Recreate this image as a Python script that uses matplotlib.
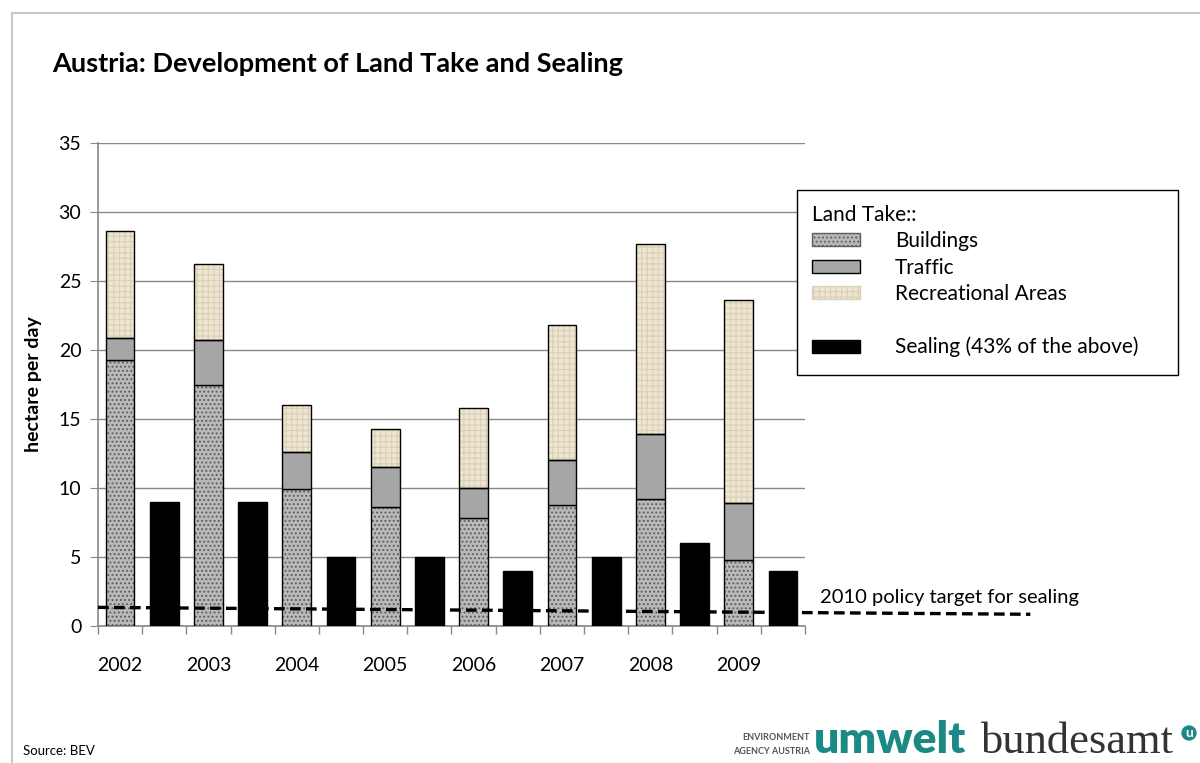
import numpy as np
import matplotlib
matplotlib.use("Agg")
import matplotlib.pyplot as plt
from matplotlib.patches import Patch, Rectangle
from matplotlib.lines import Line2D

# Datos (hectáreas por día)
anios = ["2002", "2003", "2004", "2005", "2006", "2007", "2008", "2009"]
edificios = [19.3, 17.5, 9.9, 8.6, 7.8, 8.8, 9.2, 4.8]
trafico = [1.6, 3.2, 2.7, 2.9, 2.2, 3.2, 4.7, 4.1]
recreacion = [7.7, 5.5, 3.4, 2.8, 5.8, 9.8, 13.8, 14.7]
sellado = [9, 9, 5, 5, 4, 5, 6, 4]
objetivo_x = [-0.5, 20.6]
objetivo_y = [1.35, 0.85]

plt.rcParams['font.family'] = ['Lato', 'DejaVu Sans']
plt.rcParams['hatch.linewidth'] = 0.9

fig = plt.figure(figsize=(12, 7.63), dpi=100)
ax = fig.add_axes([98/1200, 1-626/763, (805-98)/1200, (626-143)/763])

n = len(anios)
x_tierra = np.arange(n) * 2
x_sellado = x_tierra + 1
ancho = 0.65

edif = np.array(edificios)
traf = np.array(trafico)
recr = np.array(recreacion)

# Rellenos con textura (la trama usa el color del borde)
ax.bar(x_tierra, edif, ancho, color='#b9b9b9', hatch='....',
       edgecolor='#5e5e5e', linewidth=0, zorder=2)
ax.bar(x_tierra, recr, ancho, bottom=edif+traf, color='#efe6d2', hatch='+++',
       edgecolor='#dcd1b8', linewidth=0, zorder=2)

# Contornos
b1 = ax.bar(x_tierra, edif, ancho, fill=False, edgecolor='black',
            linewidth=1, zorder=3)
b2 = ax.bar(x_tierra, traf, ancho, bottom=edif, color='#a6a6a6',
            edgecolor='black', linewidth=1, zorder=3)
b3 = ax.bar(x_tierra, recr, ancho, bottom=edif+traf, fill=False,
            edgecolor='black', linewidth=1, zorder=3)
b4 = ax.bar(x_sellado, sellado, ancho, color='black', edgecolor='black',
            linewidth=1, zorder=3)

# Objetivo 2010
ax.plot(objetivo_x, objetivo_y, color='black', linestyle=(0, (3.2, 1.6)),
        linewidth=2.4, clip_on=False, zorder=4)
ax.text(15.85, 1.45, "2010 policy target for sealing", fontsize=14.5,
        ha='left', va='bottom')

ax.set_xlim(-0.5, 2*n - 0.5)
ax.set_ylim(0, 35)
ax.set_yticks(range(0, 36, 5))
ax.set_xticks(x_tierra)
ax.set_xticklabels(anios, fontsize=14)
ax.set_xticks(np.arange(-0.5, 2*n, 1), minor=True)
ax.tick_params(axis='x', which='major', length=0, pad=22)
ax.tick_params(axis='x', which='minor', length=6, color='#888888', width=1)
ax.tick_params(axis='y', labelsize=14, length=6, color='#888888', pad=6)
ax.grid(True, axis='y', color='#888888', linewidth=1, zorder=0)
ax.set_axisbelow(True)
for lado in ['top', 'right']:
    ax.spines[lado].set_visible(False)
for lado in ['left', 'bottom']:
    ax.spines[lado].set_color('#888888')
    ax.spines[lado].set_linewidth(1.2)

ax.set_ylabel("hectare per day", fontsize=14, fontweight='bold', labelpad=12)

# Leyenda (marco dibujado aparte)
marco = Rectangle((797/1200, 1-375/763), 381/1200, 185/763, transform=fig.transFigure,
                  facecolor='white', edgecolor='black', linewidth=1, zorder=9,
                  clip_on=False)
ax.add_patch(marco)
h1 = Patch(facecolor='#b9b9b9', hatch='....', edgecolor='#5e5e5e')
h3 = Patch(facecolor='#efe6d2', hatch='+++', edgecolor='#dcd1b8')
h2 = Patch(facecolor='#a6a6a6', edgecolor='black')
h4 = Patch(facecolor='black', edgecolor='black')
blank = Patch(visible=False)
leg = ax.legend([h1, h2, h3, blank, h4],
                ["Buildings", "Traffic", "Recreational Areas", " ",
                 "Sealing (43% of the above)"],
                title="Land Take::", title_fontsize=15, fontsize=15,
                loc='upper left', bbox_to_anchor=(797/1200, 1-190/763),
                bbox_transform=fig.transFigure, borderaxespad=0,
                frameon=False, handlelength=2.3, handleheight=0.6,
                handletextpad=1.7, labelspacing=0.31, borderpad=0.7,
                alignment='left')
leg.set_zorder(10)

# Título y textos
fig.text(52/1200, 1-64/763, "Austria: Development of Land Take and Sealing",
         fontsize=19.5, fontweight='bold', va='center', ha='left')
fig.text(23/1200, 1-751/763, "Source: BEV", fontsize=9.5, va='center', ha='left')

# Logo
fig.text(810/1200, 1-738/763, "ENVIRONMENT", fontsize=6.5, fontweight='bold',
         color='#555555', ha='right', va='center')
fig.text(810/1200, 1-751/763, "AGENCY AUSTRIA", fontsize=6.5, fontweight='bold',
         color='#555555', ha='right', va='center')
fig.text(814/1200, 1-753/763, "umwelt", fontsize=32, fontweight='heavy',
         color='#1b8a85', ha='left', va='baseline')
fig.text(1174/1200, 1-753/763, "bundesamt", fontsize=32, color='#333333',
         ha='right', va='baseline', family=['Liberation Serif'])
fig.text(1189/1200, 1-733/763, "u", fontsize=10, fontweight='bold',
         color='white', ha='center', va='center',
         bbox=dict(boxstyle='circle,pad=0.12', facecolor='#1b8a85', edgecolor='none'))

# Marco gris
fig.add_artist(Line2D([12/1200, 1], [1-13/763, 1-13/763], color='#c8c8c8',
                      linewidth=1.5, transform=fig.transFigure))
fig.add_artist(Line2D([12/1200, 12/1200], [0, 1-13/763], color='#c8c8c8',
                      linewidth=1.5, transform=fig.transFigure))

fig.savefig("out.png", dpi=100)
